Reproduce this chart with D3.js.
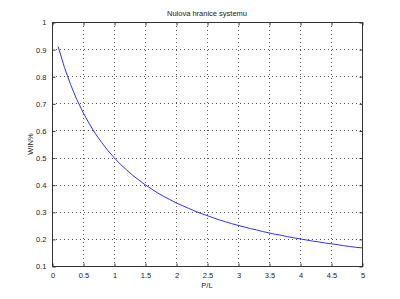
<!DOCTYPE html>
<html><head><meta charset="utf-8">
<script src="https://cdn.jsdelivr.net/npm/d3@7"></script>
<style>body{margin:0;background:#fff}svg{display:block}text{font-family:"Liberation Sans",Arial,sans-serif;fill:#222}</style>
</head><body>
<script>
const xValues = [0.1,0.2,0.3,0.4,0.5,0.6,0.7,0.8,0.9,1.0,1.1,1.2,1.3,1.4,1.5,1.6,1.7,1.8,1.9,2.0,2.1,2.2,2.3,2.4,2.5,2.6,2.7,2.8,2.9,3.0,3.1,3.2,3.3,3.4,3.5,3.6,3.7,3.8,3.9,4.0,4.1,4.2,4.3,4.4,4.5,4.6,4.7,4.8,4.9,5.0];
const yValues = [0.909,0.833,0.769,0.714,0.667,0.625,0.588,0.556,0.526,0.500,0.476,0.455,0.435,0.417,0.400,0.385,0.370,0.357,0.345,0.333,0.323,0.313,0.303,0.294,0.286,0.278,0.270,0.263,0.256,0.250,0.244,0.238,0.233,0.227,0.222,0.217,0.213,0.208,0.204,0.200,0.196,0.192,0.189,0.185,0.182,0.179,0.175,0.172,0.169,0.167];
const xTicks = [0,0.5,1,1.5,2,2.5,3,3.5,4,4.5,5];
const yTicks = [0.1,0.2,0.3,0.4,0.5,0.6,0.7,0.8,0.9,1];
const title = "Nulova hranice systemu";
const xLabel = "P/L";
const yLabel = "WIN%";

const W = 400, H = 299;
const L = 52, T = 22, R = 362, B = 266;
const svg = d3.select("body").append("svg").attr("width", W).attr("height", H);
const x = d3.scaleLinear().domain([0,5]).range([L,R]);
const y = d3.scaleLinear().domain([0.1,1]).range([B,T]);

// grid
const g = svg.append("g");
g.selectAll("line.vx").data(xTicks.slice(1,-1)).enter().append("line")
  .attr("x1", d=>Math.round(x(d))+0.5).attr("x2", d=>Math.round(x(d))+0.5).attr("y1", T).attr("y2", B)
  .attr("stroke", "#555").attr("stroke-width", 1).attr("stroke-dasharray", "1,3");
g.selectAll("line.hy").data(yTicks.slice(1,-1)).enter().append("line")
  .attr("y1", d=>Math.round(y(d))+0.5).attr("y2", d=>Math.round(y(d))+0.5).attr("x1", L).attr("x2", R)
  .attr("stroke", "#555").attr("stroke-width", 1).attr("stroke-dasharray", "1,3");

// axes
const xAxisB = d3.axisBottom(x).tickValues(xTicks).tickSize(-3).tickPadding(6).tickFormat(d3.format("~g"));
const xAxisT = d3.axisTop(x).tickValues(xTicks).tickSize(-3).tickFormat("");
const yAxisL = d3.axisLeft(y).tickValues(yTicks).tickSize(-3).tickPadding(6).tickFormat(d3.format("~g"));
const yAxisR = d3.axisRight(y).tickValues(yTicks).tickSize(-3).tickFormat("");
function style(sel){ sel.select(".domain").remove(); sel.selectAll("line").attr("stroke","#333"); sel.selectAll("text").style("font-size","7.5px").attr("fill","#333"); }
svg.append("g").attr("transform",`translate(0.5,${B+0.5})`).call(xAxisB).call(style);
svg.append("g").attr("transform",`translate(0.5,${T+0.5})`).call(xAxisT).call(style);
svg.append("g").attr("transform",`translate(${L+0.5},0.5)`).call(yAxisL).call(style);
svg.append("g").attr("transform",`translate(${R+0.5},0.5)`).call(yAxisR).call(style);

svg.append("rect").attr("x",L+0.5).attr("y",T+0.5).attr("width",R-L).attr("height",B-T)
  .attr("fill","none").attr("stroke","#333").attr("stroke-width",1);

// line
const pts = xValues.map((v,i)=>[v,yValues[i]]);
svg.append("path").datum(pts)
  .attr("d", d3.line().x(d=>x(d[0])).y(d=>y(d[1])))
  .attr("fill","none").attr("stroke","#3333ee").attr("stroke-width",1);

svg.append("text").attr("x",(L+R)/2).attr("y",16).attr("text-anchor","middle").style("font-size","7.5px").text(title);
svg.append("text").attr("x",(L+R)/2).attr("y",288).attr("text-anchor","middle").style("font-size","7.5px").text(xLabel);
svg.append("text").attr("transform",`translate(33,${(T+B)/2}) rotate(-90)`).attr("text-anchor","middle").style("font-size","7.5px").text(yLabel);
</script>
</body></html>
